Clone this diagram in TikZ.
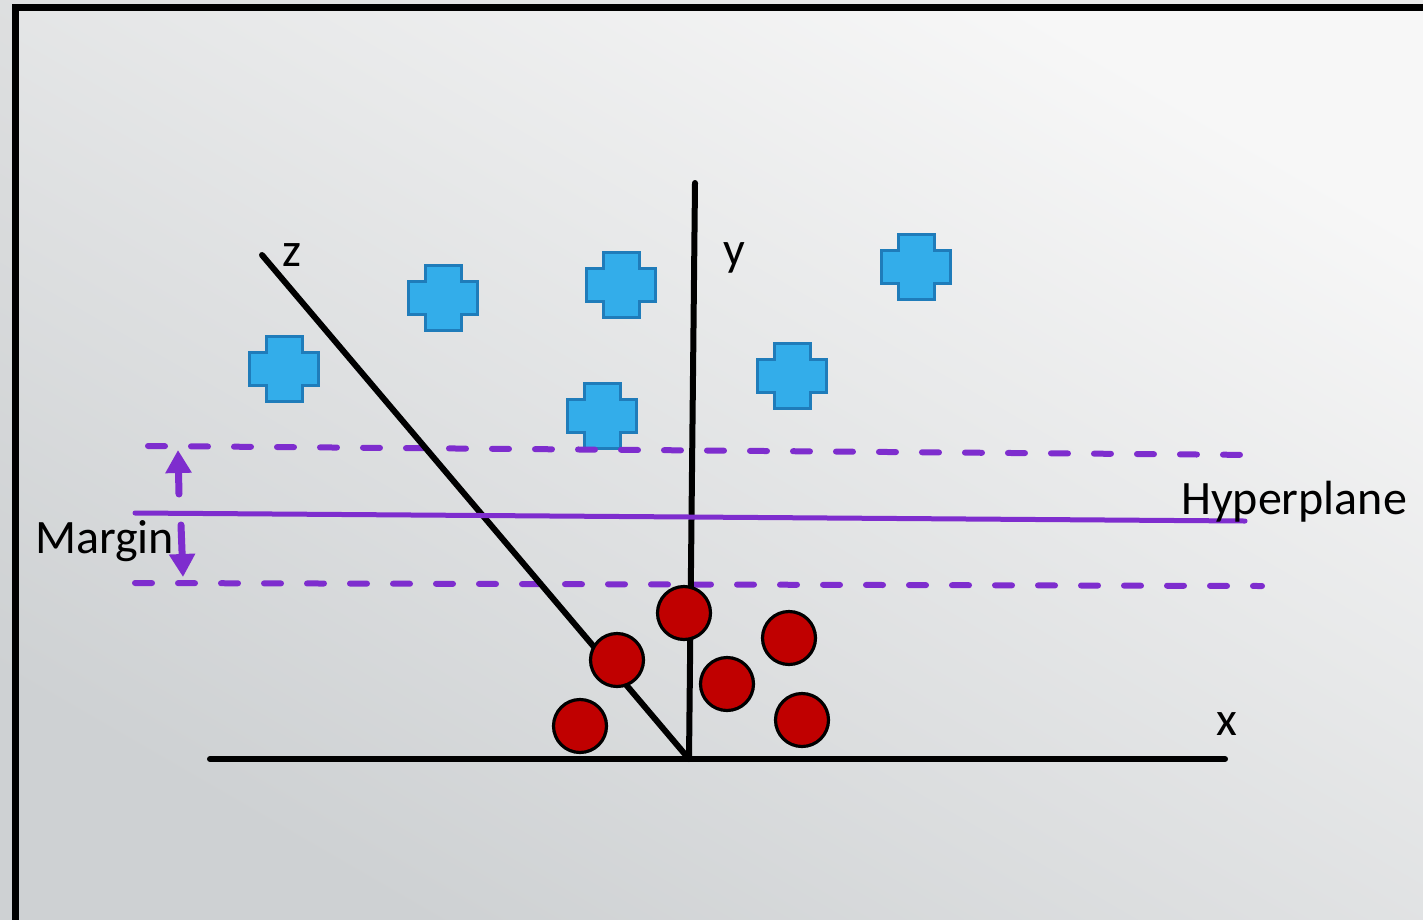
\documentclass[tikz,border=0pt]{standalone}
\usepackage{fontspec}
\setmainfont{Carlito}
\usetikzlibrary{arrows.meta}
\definecolor{crossfill}{RGB}{51,173,234}
\definecolor{crossline}{RGB}{31,124,186}
\definecolor{dotred}{RGB}{192,0,0}
\definecolor{purp}{RGB}{126,45,206}
\definecolor{bglight}{RGB}{247,247,247}
\definecolor{bgdark}{RGB}{206,209,211}
\tikzset{
  axisline/.style={line width=6pt, line cap=round, black},
  dot/.style={circle, draw=black, line width=3.2pt, fill=dotred, minimum size=53pt, inner sep=0pt},
  lbl/.style={font=\fontsize{48}{57}\selectfont, inner sep=0pt},
  margindash/.style={purp, line width=6pt, line cap=round, dash pattern=on 17pt off 26pt},
  marginarrow/.style={purp, line width=7pt, line cap=round, -{Triangle[width=25pt,length=23pt]}},
  plus/.pic={
    \draw[fill=crossfill, draw=crossline, line width=3pt, line join=miter]
      (-18,-32.5) -- (18,-32.5) -- (18,-16.5) -- (34.5,-16.5) -- (34.5,16.5) -- (18,16.5)
      -- (18,32.5) -- (-18,32.5) -- (-18,16.5) -- (-34.5,16.5) -- (-34.5,-16.5) -- (-18,-16.5) -- cycle;
  }
}
\begin{document}
\begin{tikzpicture}[x=1pt,y=-1pt]
\useasboundingbox (0,0) rectangle (1423,919);
% background
\shade[top color=bglight!95!black, bottom color=bgdark, shading angle=-30] (0,0) rectangle (1423,919);
\shade[top color=bglight, bottom color=bgdark, shading angle=-30] (15.5,7.5) rectangle (1440,925);
\draw[line width=7pt] (1440,7.5) -- (15.5,7.5) -- (15.5,925) -- (1440,925);

% crosses
\pic at (284,369) {plus};
\pic at (443,298) {plus};
\pic at (621,285) {plus};
\pic at (602,416) {plus};
\pic at (792,376) {plus};
\pic at (916,267) {plus};

% margin lines
\coordinate (dt1) at (148,446);
\coordinate (dt2) at (1259,455);
\coordinate (db1) at (135,583);
\coordinate (db2) at (1262,586);
\coordinate (h1) at (135,513);
\coordinate (h2) at (1245,521);
\draw[margindash] (dt1) -- (dt2);
\draw[margindash] (db1) -- (db2);

% axes
\coordinate (O) at (689,759);
\coordinate (xs) at (210,759);
\coordinate (xe) at (1225,759);
\coordinate (ye) at (695,183);
\coordinate (ze) at (262,255);
\draw[axisline] (xs) -- (xe);
\draw[axisline] (O) -- (ye);
\draw[axisline] (O) -- (ze);

% hyperplane
\draw[purp, line width=5pt, line cap=round] (h1) -- (h2);

% margin arrows
\coordinate (a1s) at (179,494);
\coordinate (a1e) at (178,450);
\coordinate (a2s) at (181,525);
\coordinate (a2e) at (183,577);
\draw[marginarrow] (a1s) -- (a1e);
\draw[marginarrow] (a2s) -- (a2e);

% circles
\node[dot] (c1) at (684,613) {};
\node[dot] (c2) at (617,660) {};
\node[dot] (c3) at (580,726) {};
\node[dot] (c4) at (727,684) {};
\node[dot] (c5) at (789,638) {};
\node[dot] (c6) at (802,720) {};

% labels
\node[lbl] (zl) at (292,255) {z};
\node[lbl] (yl) at (734,258) {y};
\node[lbl] (xl) at (1227,724) {x};
\node[lbl, anchor=base west] (hl) at (1181,514) {Hyperplane};
\node[lbl, anchor=base west] (ml) at (35,553) {Margin};
\end{tikzpicture}
\end{document}
